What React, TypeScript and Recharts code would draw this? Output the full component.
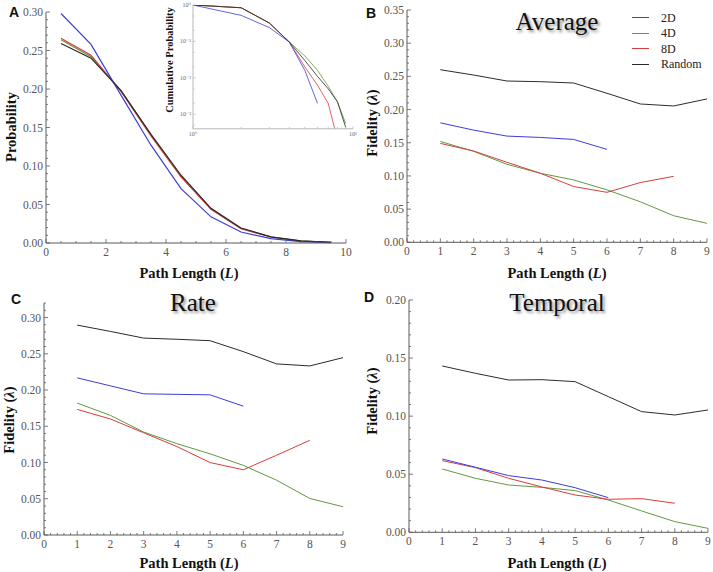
import React from 'react';
import { LineChart, Line, XAxis, YAxis } from 'recharts';

// ---------- Data ----------
const pathLengthA = [0.5, 1.5, 2.5, 3.5, 4.5, 5.5, 6.5, 7.5, 8.5, 9.5];
const prob2D = [0.298, 0.258, 0.192, 0.127, 0.0706, 0.034, 0.0143, 0.0056, 0.0017, 0.0004];
const prob4D = [0.264, 0.242, 0.198, 0.140, 0.087, 0.044, 0.0188, 0.0078, 0.0026, 0.0009];
const prob8D = [0.266, 0.244, 0.197, 0.139, 0.086, 0.0437, 0.0186, 0.0078, 0.0026, 0.0009];
const probRandom = [0.259, 0.240, 0.198, 0.141, 0.088, 0.045, 0.0195, 0.008, 0.0028, 0.001];

const cumL = [1, 2, 3, 4, 5, 6, 7, 8, 9];
const cum2D = [1.0, 0.52, 0.24, 0.096, 0.016, 0.002, null, null, null];
const cum4D = [1.0, 0.84, 0.32, 0.096, 0.040, 0.016, 0.0059, 0.0022, 0.00056];
const cum8D = [1.0, 0.84, 0.32, 0.096, 0.020, 0.0063, 0.002, 0.0002, null];
const cumRandom = [1.0, 0.84, 0.32, 0.096, 0.030, 0.011, 0.005, 0.0022, 0.00044];

const pathLength = [1, 2, 3, 4, 5, 6, 7, 8, 9];
const avg2D = [0.180, 0.169, 0.160, 0.158, 0.155, 0.140, null, null, null];
const avg4D = [0.152, 0.137, 0.1175, 0.104, 0.094, 0.079, 0.061, 0.040, 0.0286];
const avg8D = [0.149, 0.1376, 0.1205, 0.104, 0.084, 0.0753, 0.090, 0.0994, null];
const avgRandom = [0.260, 0.252, 0.243, 0.242, 0.240, 0.2245, 0.2084, 0.2054, 0.216];

const rate2D = [0.2167, 0.2057, 0.1947, 0.194, 0.1933, 0.1777, null, null, null];
const rate4D = [0.1819, 0.165, 0.142, 0.126, 0.112, 0.096, 0.0756, 0.0504, 0.039];
const rate8D = [0.1732, 0.160, 0.141, 0.122, 0.0999, 0.090, 0.110, 0.1306, null];
const rateRandom = [0.2895, 0.2808, 0.2716, 0.270, 0.268, 0.2529, 0.236, 0.2332, 0.2446];

const temp2D = [0.0631, 0.056, 0.0488, 0.045, 0.0384, 0.0298, null, null, null];
const temp4D = [0.0545, 0.0465, 0.0407, 0.0387, 0.0359, 0.0278, 0.0184, 0.0092, 0.0034];
const temp8D = [0.0617, 0.0557, 0.0465, 0.039, 0.0321, 0.0284, 0.029, 0.025, null];
const tempRandom = [0.1432, 0.1369, 0.1311, 0.1314, 0.1297, 0.1168, 0.1039, 0.101, 0.1053];

const seriesNames = ['2D', '4D', '8D', 'Random'];
const seriesColors = ['#3c3cdc', '#5f9a40', '#d93c3c', '#2b2b2b'];

// ticks
const range = (a: number, b: number, s: number) => {
  const out: number[] = [];
  for (let v = a; v <= b + 1e-9; v += s) out.push(Math.round(v * 1000) / 1000);
  return out;
};

const SERIF = 'Liberation Serif, DejaVu Serif, serif';
const AX = '#5a5a5a';
const TICKC = '#555';

const build = (xs: number[], cols: (number | null)[][]) =>
  xs.map((x, i) => {
    const o: any = { L: x };
    cols.forEach((c, j) => (o['s' + j] = c[i]));
    return o;
  });

const isIn = (arr: number[], v: number) => arr.some((m) => Math.abs(m - v) < 1e-6);

const makeXTick = (majors: number[], fmt: (v: number) => string, opts: any = {}) => (p: any) => {
  const v = p.payload.value;
  const major = isIn(majors, v);
  const len = major ? opts.major ?? 4 : opts.minor ?? 2;
  return (
    <g>
      <line x1={p.x} x2={p.x} y1={p.y} y2={p.y - len} stroke={opts.color ?? AX} strokeWidth={0.8} />
      {major && (
        <text
          x={p.x}
          y={p.y + (opts.dy ?? 13)}
          textAnchor="middle"
          fontFamily={SERIF}
          fontSize={opts.fs ?? 11.5}
          fill={opts.fill ?? TICKC}
          style={{ fontFamily: SERIF }}
        >
          {fmt(v)}
        </text>
      )}
    </g>
  );
};

const makeYTick = (majors: number[], fmt: (v: number) => string, opts: any = {}) => (p: any) => {
  const v = p.payload.value;
  const major = isIn(majors, v);
  const len = major ? opts.major ?? 4 : opts.minor ?? 2;
  return (
    <g>
      <line x1={p.x} x2={p.x + len} y1={p.y} y2={p.y} stroke={opts.color ?? AX} strokeWidth={0.8} />
      {major && (
        <text
          x={p.x - (opts.dx ?? 3)}
          y={p.y + (opts.dy ?? 4)}
          textAnchor="end"
          fontFamily={SERIF}
          fontSize={opts.fs ?? 11.5}
          fill={opts.fill ?? TICKC}
          style={{ fontFamily: SERIF }}
        >
          {fmt(v)}
        </text>
      )}
    </g>
  );
};

type PanelProps = {
  box: [number, number, number, number];
  xs: number[];
  cols: (number | null)[][];
  xDomain: [number, number];
  yDomain: [number, number];
  xTicks: number[];
  xMajors: number[];
  yTicks: number[];
  yMajors: number[];
  sw?: number;
};

const ML = 50, MT = 8, MR = 10, MB = 22;

function Panel({ box, xs, cols, xDomain, yDomain, xTicks, xMajors, yTicks, yMajors, sw = 1 }: PanelProps) {
  const [x0, y0, x1, y1] = box;
  const data = build(xs, cols);
  const w = x1 - x0 + ML + MR;
  const h = y1 - y0 + MT + MB;
  const order = [1, 2, 0, 3];
  return (
    <div style={{ position: 'absolute', left: x0 - ML, top: y0 - MT }}>
      <LineChart width={w} height={h} data={data} margin={{ top: MT, right: MR, bottom: 0, left: 0 }}>
        <XAxis
          dataKey="L"
          type="number"
          domain={xDomain}
          ticks={xTicks}
          interval={0}
          height={MB}
          tickSize={0}
          tickMargin={0}
          tickLine={false}
          axisLine={{ stroke: AX, strokeWidth: 1 }}
          tick={makeXTick(xMajors, (v) => String(v))}
        />
        <YAxis
          type="number"
          domain={yDomain}
          ticks={yTicks}
          interval={0}
          width={ML}
          tickSize={0}
          tickMargin={0}
          tickLine={false}
          axisLine={{ stroke: AX, strokeWidth: 1 }}
          tick={makeYTick(yMajors, (v) => v.toFixed(2))}
        />
        {order.map((j) => (
          <Line
            key={j}
            dataKey={'s' + j}
            type="linear"
            stroke={seriesColors[j]}
            strokeWidth={sw}
            dot={false}
            isAnimationActive={false}
          />
        ))}
      </LineChart>
    </div>
  );
}

function Inset() {
  const x0 = 193, y0 = 4.5, x1 = 353, y1 = 128.3;
  const iml = 20, imt = 4, imr = 6, imb = 12;
  const data = build(cumL, [cum2D, cum4D, cum8D, cumRandom]);
  const xt = [1, 2, 3, 4, 5, 6, 7, 8, 9, 10];
  const yt = [1, 0.1, 0.01, 0.001];
  const ytMinor = [0.5, 0.2, 0.05, 0.02, 0.005, 0.002, 0.0005];
  const yLab: Record<string, string> = { '1': '10⁰', '0.1': '10⁻¹', '0.01': '10⁻²', '0.001': '10⁻³' };
  const order = [1, 2, 0, 3];
  return (
    <div style={{ position: 'absolute', left: x0 - iml, top: y0 - imt }}>
      <LineChart width={x1 - x0 + iml + imr} height={y1 - y0 + imt + imb} data={data} margin={{ top: imt, right: imr, bottom: 0, left: 0 }}>
        <XAxis
          dataKey="L"
          type="number"
          scale="log"
          domain={[1, 10]}
          ticks={xt}
          interval={0}
          height={imb}
          tickSize={0}
          tickMargin={0}
          tickLine={false}
          axisLine={{ stroke: '#b8b8b8', strokeWidth: 1 }}
          tick={makeXTick([1, 10], (v) => (v === 1 ? '10⁰' : '10¹'), { color: '#bbb', fs: 6, dy: 7, major: 2.5, minor: 2, fill: '#666' })}
        />
        <YAxis
          type="number"
          scale="log"
          domain={[0.0004, 1]}
          allowDataOverflow
          ticks={[...yt, ...ytMinor]}
          interval={0}
          width={iml}
          tickSize={0}
          tickMargin={0}
          tickLine={false}
          axisLine={{ stroke: '#b8b8b8', strokeWidth: 1 }}
          tick={makeYTick(yt, (v) => yLab[String(v)] ?? '', { color: '#bbb', fs: 6, dx: 2, dy: 2, major: 2.5, minor: 1.5, fill: '#666' })}
        />
        {order.map((j) => (
          <Line
            key={j}
            dataKey={'s' + j}
            type="linear"
            stroke={seriesColors[j]}
            strokeWidth={0.8}
            dot={false}
            isAnimationActive={false}
          />
        ))}
      </LineChart>
    </div>
  );
}

const centered = (x: number, y: number, extra: React.CSSProperties = {}): React.CSSProperties => ({
  position: 'absolute',
  left: x,
  top: y,
  transform: 'translate(-50%, -50%)',
  whiteSpace: 'nowrap',
  lineHeight: 1,
  ...extra,
});

function XLabel({ x, y }: { x: number; y: number }) {
  return (
    <div style={centered(x, y, { fontFamily: SERIF, fontWeight: 'bold', fontSize: 14.5, color: '#111' })}>
      Path Length (<i>L</i>)
    </div>
  );
}

function YLabel({ x, y, text }: { x: number; y: number; text: React.ReactNode }) {
  return (
    <div style={centered(x, y, { fontFamily: SERIF, fontWeight: 'bold', fontSize: 14.5, color: '#111', transform: 'translate(-50%, -50%) rotate(-90deg)' })}>
      {text}
    </div>
  );
}

function Title({ x, y, text }: { x: number; y: number; text: string }) {
  return (
    <div style={centered(x, y, { fontFamily: SERIF, fontSize: 25, color: '#111', textShadow: '2px 2px 3px rgba(0,0,0,0.45)' })}>
      {text}
    </div>
  );
}

function Letter({ x, y, text }: { x: number; y: number; text: string }) {
  return (
    <div style={{ position: 'absolute', left: x, top: y, fontFamily: 'Liberation Sans, Arial, sans-serif', fontWeight: 'bold', fontSize: 14, lineHeight: 1, color: '#111' }}>
      {text}
    </div>
  );
}

const fid = (
  <span>
    Fidelity (<i>λ</i>)
  </span>
);

export default function App() {
  const x9 = range(0, 9, 0.2);
  const x9maj = range(0, 9, 1);
  return (
    <div style={{ position: 'absolute', left: 0, top: 0, width: 713, height: 572, background: '#fff', overflow: 'hidden' }}>
      {/* Panel A */}
      <Panel
        box={[46, 12, 346, 243]}
        xs={pathLengthA}
        cols={[prob2D, prob4D, prob8D, probRandom]}
        xDomain={[0, 10]}
        yDomain={[0, 0.3]}
        xTicks={range(0, 10, 0.5)}
        xMajors={range(0, 10, 2)}
        yTicks={range(0, 0.3, 0.01)}
        yMajors={range(0, 0.3, 0.05)}
        sw={1.2}
      />
      <Inset />
      <div style={centered(170, 60, { fontFamily: SERIF, fontWeight: 'bold', fontSize: 10.5, color: '#111', transform: 'translate(-50%, -50%) rotate(-90deg)' })}>
        Cumulative Probability
      </div>
      <Letter x={9} y={5} text="A" />
      <YLabel x={11} y={127} text="Probability" />
      <XLabel x={189} y={273} />

      {/* Panel B */}
      <Panel
        box={[407, 10, 707, 242.3]}
        xs={pathLength}
        cols={[avg2D, avg4D, avg8D, avgRandom]}
        xDomain={[0, 9]}
        yDomain={[0, 0.35]}
        xTicks={x9}
        xMajors={x9maj}
        yTicks={range(0, 0.35, 0.01)}
        yMajors={range(0, 0.35, 0.05)}
      />
      <Letter x={366} y={6} text="B" />
      <Title x={557} y={21} text="Average" />
      <YLabel x={372} y={123} text={fid} />
      <XLabel x={557} y={273} />
      {seriesNames.map((n, i) => (
        <div key={n}>
          <div style={{ position: 'absolute', left: 632, top: Math.round(17 + i * 15.6), width: 17, height: 1, background: seriesColors[i] }} />
          <div style={{ position: 'absolute', left: 661, top: 17.5 + i * 15.6, transform: 'translateY(-50%)', fontFamily: SERIF, fontSize: 12, lineHeight: 1, color: '#222' }}>
            {n}
          </div>
        </div>
      ))}

      {/* Panel C */}
      <Panel
        box={[44, 303, 343, 535]}
        xs={pathLength}
        cols={[rate2D, rate4D, rate8D, rateRandom]}
        xDomain={[0, 9]}
        yDomain={[0, 0.32]}
        xTicks={x9}
        xMajors={x9maj}
        yTicks={range(0, 0.32, 0.01)}
        yMajors={range(0, 0.3, 0.05)}
      />
      <Letter x={11} y={292} text="C" />
      <Title x={193} y={302} text="Rate" />
      <YLabel x={9} y={420} text={fid} />
      <XLabel x={189} y={563} />

      {/* Panel D */}
      <Panel
        box={[409, 300, 708, 532.3]}
        xs={pathLength}
        cols={[temp2D, temp4D, temp8D, tempRandom]}
        xDomain={[0, 9]}
        yDomain={[0, 0.2]}
        xTicks={x9}
        xMajors={x9maj}
        yTicks={range(0, 0.2, 0.01)}
        yMajors={range(0, 0.2, 0.05)}
      />
      <Letter x={364} y={290} text="D" />
      <Title x={557} y={302} text="Temporal" />
      <YLabel x={372} y={401} text={fid} />
      <XLabel x={557} y={563} />
    </div>
  );
}
